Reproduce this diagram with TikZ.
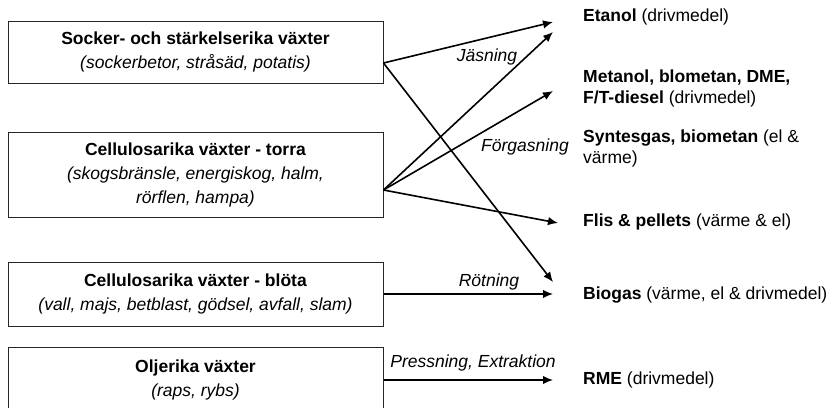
\documentclass[tikz,border=0pt]{standalone}
\usepackage{fontspec}
\setmainfont{Liberation Sans}
\usetikzlibrary{arrows.meta}
\begin{document}
\begin{tikzpicture}[x=1pt,y=-1pt,
  box/.style={draw=black!85,line width=1pt,minimum width=375pt,align=center,inner sep=0pt,font=\fontsize{17.5}{24}\selectfont},
  outtext/.style={anchor=west,align=left,inner sep=0pt,font=\fontsize{17.5}{21}\selectfont},
  proc/.style={font=\fontsize{17.5}{20}\selectfont\itshape,inner sep=0pt},
  flow/.style={line width=1.6pt,-{Latex[length=10pt,width=8.5pt]}}]
\useasboundingbox (0,0) rectangle (830,407);
\clip (0,0) rectangle (830,407);
% source boxes
\node[box,minimum height=62pt] (b1) at (195.5,52) {\textbf{Socker- och stärkelserika  växter}\\\textit{(sockerbetor, stråsäd, potatis)}};
\node[box,minimum height=85pt] (b2) at (195.5,174.5) {\textbf{Cellulosarika växter - torra}\\\textit{(skogsbränsle, energiskog, halm,}\\\textit{rörflen, hampa)}};
\node[box,minimum height=64pt] (b3) at (195.5,294) {\textbf{Cellulosarika växter - blöta}\\\textit{(vall, majs, betblast, gödsel, avfall, slam)}};
\node[box,minimum height=66pt] (b4) at (195.5,380) {\textbf{Oljerika växter}\\\textit{(raps, rybs)}};
% products
\node[outtext] (etanol) at (583,17) {\textbf{Etanol} (drivmedel)};
\node[outtext] (metanol) at (583,88) {\textbf{Metanol, blometan, DME,}\\\textbf{F/T-diesel} (drivmedel)};
\node[outtext] (syntes) at (583,148) {\textbf{Syntesgas, biometan} (el \&\\värme)};
\node[outtext] (flis) at (583,222) {\textbf{Flis \& pellets} (värme \& el)};
\node[outtext] (biogas) at (583,295) {\textbf{Biogas} (värme, el \& drivmedel)};
\node[outtext] (rme) at (583,380) {\textbf{RME} (drivmedel)};
% process labels
\node[proc] (jas) at (487,57) {Jäsning};
\node[proc] (forg) at (525,147) {Förgasning};
\node[proc] (rot) at (489,282) {Rötning};
\node[proc] (press) at (473,363) {Pressning, Extraktion};
% connector ends
\coordinate (s1) at ([yshift=-11pt]b1.east);
\coordinate (s2) at ([yshift=-15.5pt]b2.east);
\coordinate (tE1) at (553,22);
\coordinate (tE2) at (553,32);
\coordinate (tM) at (553,91);
\coordinate (tF) at (558,223);
\coordinate (tB1) at (553,282);
\coordinate (tB2) at (553,294);
\coordinate (tR) at (553,380);
% flows
\draw[flow] (s1) -- (tE1);
\draw[flow] (s1) -- (tB1);
\draw[flow] (s2) -- (tE2);
\draw[flow] (s2) -- (tM);
\draw[flow] (s2) -- (tF);
\draw[flow] (b3.east) -- (tB2);
\draw[flow] (b4.east) -- (tR);
\end{tikzpicture}
\end{document}
